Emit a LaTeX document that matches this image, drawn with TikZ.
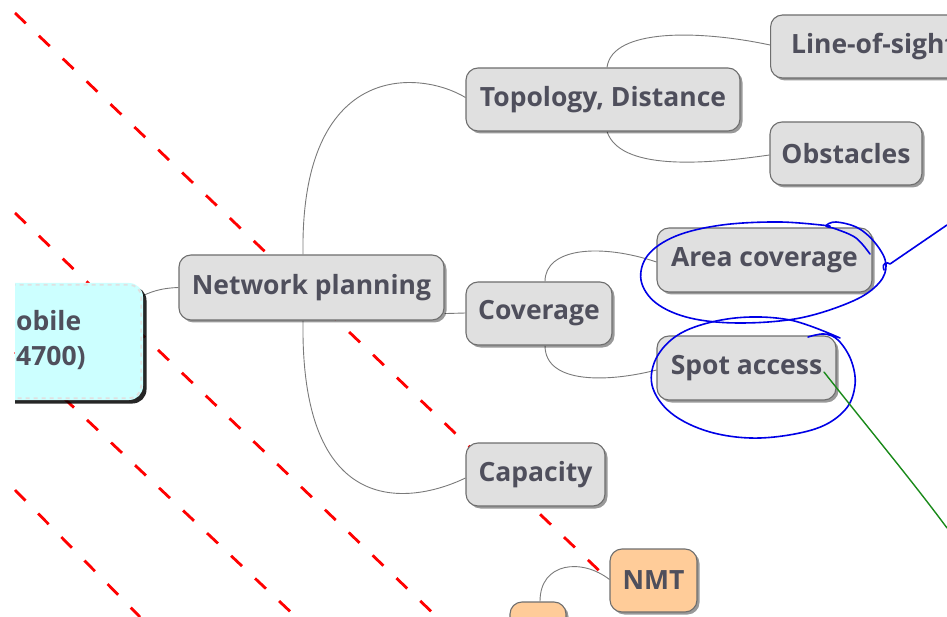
\documentclass[tikz,border=0pt]{standalone}
\usepackage{fontspec}
\setmainfont{Open Sans}
\usetikzlibrary{shadows,calc,backgrounds}
\definecolor{nodegray}{HTML}{E0E0E0}
\definecolor{bordergray}{HTML}{6E6E6E}
\definecolor{textcol}{HTML}{4F4F5C}
\definecolor{linkgray}{HTML}{7A7A7A}
\definecolor{orangefill}{HTML}{FFCC99}
\definecolor{cyanfill}{HTML}{CCFFFF}
\definecolor{pen}{HTML}{0000E6}
\definecolor{greenpen}{HTML}{1A8A1A}
\begin{document}
\begin{tikzpicture}[x=1pt,y=-1pt,
  mnode/.style={draw=bordergray, line width=1.1pt, fill=nodegray, rounded corners=12pt,
    inner sep=0pt, text=textcol, font=\bfseries\fontsize{26.5}{30}\selectfont,
    drop shadow={shadow xshift=2.5pt, shadow yshift=-2.5pt, opacity=0.4, fill=black}},
  onode/.style={mnode, fill=orangefill},
  link/.style={draw=linkgray, line width=0.9pt},
  reddash/.style={draw=red, line width=2.8pt, dash pattern=on 15pt off 18pt},
  bluepen/.style={draw=pen, line width=1.6pt, line cap=round, line join=round},
  greenline/.style={draw=greenpen, line width=1.4pt, line cap=round},
  cytext/.style={text=textcol, font=\bfseries\fontsize{26.5}{30}\selectfont, inner sep=0pt, anchor=west}
]
\useasboundingbox (0,0) rectangle (947,617);
\clip (15,0) rectangle (947,617);

% nodes
\node[mnode, minimum width=265pt, minimum height=65pt] (np) at (311.5,287.5) {Network planning};
\node[mnode, minimum width=274pt, minimum height=63pt] (topo) at (603,99.5) {Topology, Distance};
\node[mnode, minimum width=220pt, minimum height=63pt, anchor=west, align=left, text width=205pt] (los) at (770,46.5) {\hspace*{13pt}Line-of-sight};
\node[mnode, minimum width=152pt, minimum height=63pt] (obst) at (846,153.5) {Obstacles};
\node[mnode, minimum width=146pt, minimum height=63pt] (cov) at (539,313.5) {Coverage};
\node[mnode, minimum width=215pt, minimum height=64pt] (area) at (764.5,260) {Area coverage};
\node[mnode, minimum width=179pt, minimum height=64pt] (spot) at (746.5,368) {Spot access};
\node[mnode, minimum width=139pt, minimum height=63pt] (cap) at (535.5,474.5) {Capacity};
\node[onode, minimum width=87pt, minimum height=63pt] (nmt) at (653.5,580.5) {NMT};
\node[onode, minimum width=56pt, minimum height=56pt] (orb) at (538,630) {};

% cyan root box (cropped)
\node[draw=none, fill=cyanfill, rounded corners=14pt, minimum width=245pt, minimum height=117pt, inner sep=0pt,
  drop shadow={shadow xshift=3.5pt, shadow yshift=-3.5pt, opacity=0.85, fill=black}] (root) at (20.5,341.5) {};
\draw[draw=nodegray, line width=1.8pt, dash pattern=on 4pt off 4pt, rounded corners=12pt]
  ($(root.south west)+(2,-2)$) rectangle ($(root.north east)+(-2,2)$);
\node[cytext] (t1) at (16,321) {obile};
\node[cytext] (t2) at (16,358) {4700)};

\begin{scope}[on background layer]
  % red dashed lines
  \coordinate (r1a) at (15,13);  \coordinate (r1b) at (nmt.west);
  \coordinate (r2a) at (15,213); \coordinate (r2b) at (437,617);
  \coordinate (r3a) at (15,352); \coordinate (r3b) at (296,617);
  \coordinate (r4a) at (15,490); \coordinate (r4b) at (140,617);
  \draw[reddash] (r1a) -- (r1b);
  \draw[reddash] (r2a) -- (r2b);
  \draw[reddash] (r3a) -- (r3b);
  \draw[reddash] (r4a) -- (r4b);
  % links
  \draw[link] ($(root.east)+(0,-46)$) .. controls (155,290) and (165,288) .. (np.west);
  \draw[link] ($(np.north)+(-8.5,0)$) .. controls (300,60) and (420,70) .. ($(topo.west)+(0,-2)$);
  \draw[link] ($(np.south east)+(0,-7)$) -- ($(cov.west)+(0,-0.5)$);
  \draw[link] ($(np.south)+(-8.5,0)$) .. controls (300,530) and (420,500) .. ($(cap.west)+(0,3.5)$);
  \draw[link] ($(topo.north)+(4,0)$) .. controls (612,28) and (700,30) .. ($(los.west)+(0,-1.5)$);
  \draw[link] ($(topo.south)+(4,0)$) .. controls (620,170) and (700,165) .. ($(obst.west)+(0,1.5)$);
  \draw[link] ($(cov.north)+(6,0)$) .. controls (545,248) and (600,243) .. ($(area.west)+(0,2)$);
  \draw[link] ($(cov.south)+(6,0)$) .. controls (545,385) and (610,382) .. ($(spot.west)+(0,2)$);
  \draw[link] ($(orb.north)+(2,0)$) .. controls (540,562) and (582,558) .. ($(nmt.west)+(0,-1)$);
\end{scope}

% hand-drawn annotations
\coordinate (ae) at (870,254);
\draw[bluepen] plot[smooth, tension=0.6] coordinates {
  (ae) (856,238) (836,229) (826,226) (836,222) (858,228) (876,244) (886,264) (879,283)
  (853,301) (800,318) (740,323) (690,318) (656,303) (641,280) (648,255) (676,236)
  (722,225) (780,222) (830,226)};
\coordinate (bl1) at (884,270);
\coordinate (bl2) at (947,225);
\draw[bluepen] (bl1) .. controls (881,262) and (888,262) .. (890,264) -- (bl2);
\coordinate (se) at (808,337);
\draw[bluepen] plot[smooth, tension=0.6] coordinates {
  (se) (824,334) (838,340) (851,360) (855,385) (845,410) (815,429) (760,438)
  (710,432) (671,413) (652,385) (658,355) (685,331) (735,318) (790,320) (840,338)};
\coordinate (g1) at (824,372);
\coordinate (g2) at (947,528);
\draw[greenline] (g1) .. controls (860,418) and (910,478) .. (g2);
\end{tikzpicture}
\end{document}
